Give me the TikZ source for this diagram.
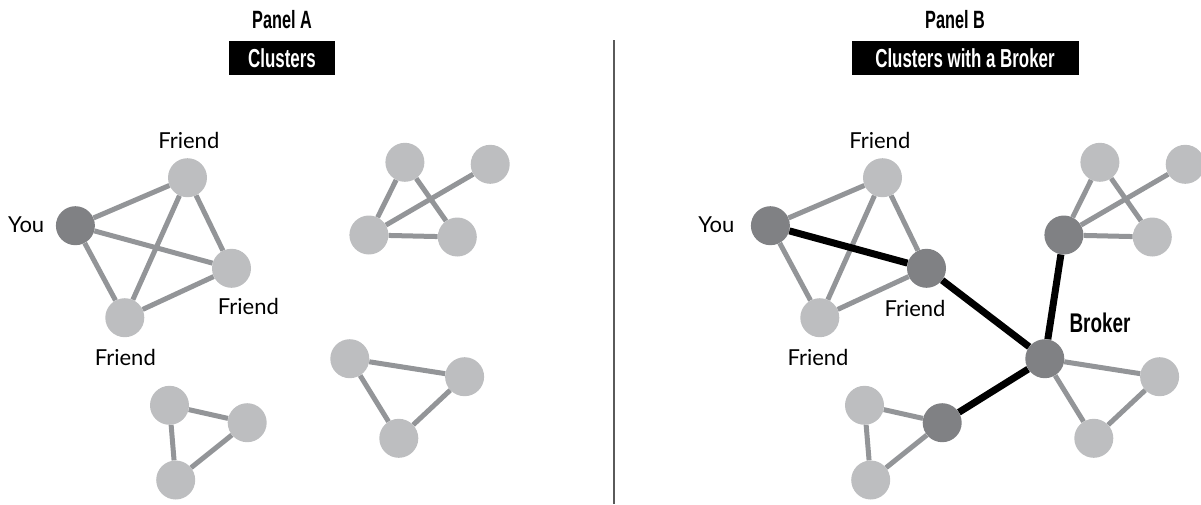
\documentclass[tikz,border=0pt]{standalone}
\usepackage{fontspec}
\setmainfont{Lato}
\newfontfamily\headfont{Liberation Sans}[FakeStretch=0.65]
\newfontfamily\brokerfont{Liberation Sans}[FakeStretch=0.7]
\usepackage{tikz}
\definecolor{memberfill}{RGB}{189,190,192}
\definecolor{linkedfill}{RGB}{128,129,132}
\definecolor{tiegray}{RGB}{147,149,152}
\definecolor{dividergray}{RGB}{90,90,90}
\newcommand{\sizenode}{39pt}
\newcommand{\shiftpanel}{695}
\tikzset{
    member/.style={circle, fill=memberfill, minimum size=\sizenode, inner sep=0pt},
    linked/.style={member, fill=linkedfill},
    tie/.style={draw=tiegray, line width=5pt},
    bridge/.style={draw=black, line width=7pt},
    who/.style={anchor=base, inner sep=0pt, font=\fontsize{22}{22}\selectfont},
    heading/.style={anchor=base, inner sep=0pt, font=\headfont\bfseries\fontsize{25}{25}\selectfont},
    banner/.style={fill=black, text=white, inner sep=0pt, minimum height=34pt,
        font=\headfont\bfseries\fontsize{26}{26}\selectfont}
}

\begin{document}
\begin{tikzpicture}[x=1pt, y=-1pt]
    \useasboundingbox (0,0) rectangle (1201,504);

    % panel titles
    \node[heading] (A-title) at (282,28.3) {Panel A};
    \node[banner, minimum width=106pt] (A-banner) at (282,58) {Clusters};
    \node[heading] (B-title) at (955,28.3) {Panel B};
    \node[banner, minimum width=227pt] (B-banner) at (965,58) {Clusters with a Broker};

    \coordinate (divider-top) at (614,40);
    \coordinate (divider-bottom) at (614,504);
    \draw[dividergray, line width=1.3pt] (divider-top) -- (divider-bottom);

    %%% Panel A
    \node[linked] (A-you) at (75.4,225.7) {};
    \node[member] (A-top) at (187.5,177.7) {};
    \node[member] (A-right) at (231.5,268.3) {};
    \node[member] (A-bottom) at (124.8,317.7) {};

    \node[member] (A-c2a) at (404.9,162.3) {};
    \node[member] (A-c2b) at (490.2,164.3) {};
    \node[member] (A-c2c) at (368.9,235) {};
    \node[member] (A-c2d) at (457.3,237) {};

    \node[member] (A-c3a) at (349.8,358.7) {};
    \node[member] (A-c3b) at (464.6,376.7) {};
    \node[member] (A-c3c) at (398.8,438.3) {};

    \node[member] (A-c4a) at (169.5,405.3) {};
    \node[member] (A-c4b) at (247.2,422.7) {};
    \node[member] (A-c4c) at (175.7,480) {};

    \foreach \from/\to in {you/top, you/right, you/bottom, top/right, top/bottom, bottom/right,
            c2a/c2c, c2a/c2d, c2c/c2d, c2c/c2b,
            c3a/c3b, c3a/c3c, c3b/c3c,
            c4a/c4b, c4a/c4c, c4b/c4c}
        \draw[tie] (A-\from) -- (A-\to);

    \node[who] (A-you-label) at (26.2,232.7) {You};
    \node[who] (A-top-label) at (188.8,148.3) {Friend};
    \node[who] (A-right-label) at (248.4,314) {Friend};
    \node[who] (A-bottom-label) at (125.3,365) {Friend};

    %%% Panel B
    \begin{scope}[xshift=\shiftpanel]
        \node[linked] (B-you) at (75.4,225.7) {};
        \node[member] (B-top) at (187.5,177.7) {};
        \node[linked] (B-right) at (231.5,268.3) {};
        \node[member] (B-bottom) at (124.8,317.7) {};

        \node[member] (B-c2a) at (404.9,162.3) {};
        \node[member] (B-c2b) at (490.2,164.3) {};
        \node[linked] (B-c2c) at (368.9,235) {};
        \node[member] (B-c2d) at (457.3,237) {};

        \node[linked] (B-broker) at (349.8,358.7) {};
        \node[member] (B-c3b) at (464.6,376.7) {};
        \node[member] (B-c3c) at (398.8,438.3) {};

        \node[member] (B-c4a) at (169.5,405.3) {};
        \node[linked] (B-c4b) at (247.2,422.7) {};
        \node[member] (B-c4c) at (175.7,480) {};
    \end{scope}

    \foreach \from/\to in {you/top, you/bottom, top/right, top/bottom, bottom/right,
            c2a/c2c, c2a/c2d, c2c/c2d, c2c/c2b,
            broker/c3b, broker/c3c, c3b/c3c,
            c4a/c4b, c4a/c4c, c4b/c4c}
        \draw[tie] (B-\from) -- (B-\to);

    \draw[bridge] (B-you) -- (B-right);
    \draw[bridge] (B-right) -- (B-broker);
    \draw[bridge] (B-c2c) -- (B-broker);
    \draw[bridge] (B-c4b) -- (B-broker);

    \node[who] (B-you-label) at (716.3,232.7) {You};
    \node[who] (B-top-label) at (879.8,148.3) {Friend};
    \node[who] (B-right-label) at (915,316) {Friend};
    \node[who] (B-bottom-label) at (818,365) {Friend};
    \node[heading, font=\brokerfont\bfseries\fontsize{27}{27}\selectfont] (B-broker-label) at (1100,332.7) {Broker};

\end{tikzpicture}
\end{document}
